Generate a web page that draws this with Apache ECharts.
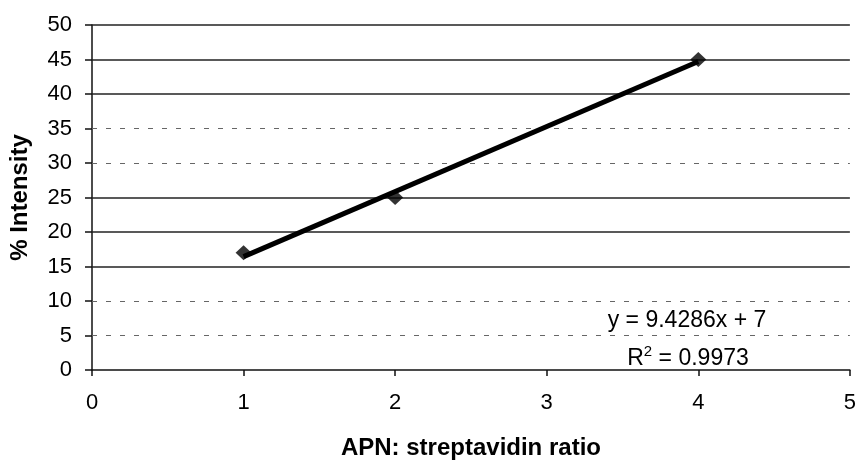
<!DOCTYPE html>
<html>
<head>
<meta charset="utf-8">
<script src="https://cdn.jsdelivr.net/npm/echarts@6/dist/echarts.min.js"></script>
<style>html,body{margin:0;padding:0;background:#fff;}#c{width:859px;height:465px;}</style>
</head>
<body>
<div id="c"></div>
<script>
const xValues = [1, 2, 4];
const yValues = [17, 25, 45];
const trendX = [1, 4];
const trendY = [16.43, 44.71];
const solidGrid = [15, 20, 25, 40, 45, 50];
const faintGrid = [5, 10, 30, 35];
const equationText = 'y = 9.4286x + 7';
const r2Base = 'R';
const r2Sup = '2';
const r2Rest = ' = 0.9973';
const xTitle = 'APN: streptavidin ratio';
const yTitle = '% Intensity';

const FONT = '"Liberation Sans", Arial, sans-serif';
const chart = echarts.init(document.getElementById('c'));

const gridLines = solidGrid.map(v => ({yAxis: v, lineStyle: {color: '#222', width: 1.5, type: 'solid'}}))
  .concat(faintGrid.map(v => ({yAxis: v, lineStyle: {color: '#666', width: 1, type: [5, 9]}})));

chart.setOption({
  animation: false,
  backgroundColor: '#fff',
  grid: {left: 92, right: 9, top: 25, bottom: 88, containLabel: false},
  xAxis: {
    type: 'value', min: 0, max: 5, interval: 1,
    name: xTitle, nameLocation: 'middle', nameGap: 66,
    nameTextStyle: {fontFamily: FONT, fontSize: 24, fontWeight: 'bold', color: '#000'},
    axisLine: {show: true, lineStyle: {color: '#111', width: 1.5}},
    axisTick: {show: true, length: 6, lineStyle: {color: '#111', width: 1.5}},
    axisLabel: {fontFamily: FONT, fontSize: 22, color: '#000', margin: 22},
    splitLine: {show: false}
  },
  yAxis: {
    type: 'value', min: 0, max: 50, interval: 5,
    name: yTitle, nameLocation: 'middle', nameGap: 60, nameRotate: 90,
    nameTextStyle: {fontFamily: FONT, fontSize: 24, fontWeight: 'bold', color: '#000'},
    axisLine: {show: true, lineStyle: {color: '#111', width: 1.5}},
    axisTick: {show: true, length: 7, lineStyle: {color: '#111', width: 1.5}},
    axisLabel: {fontFamily: FONT, fontSize: 22, color: '#000', margin: 20},
    splitLine: {show: false}
  },
  series: [
    {
      type: 'line', data: trendX.map((x, i) => [x, trendY[i]]),
      symbol: 'none', lineStyle: {color: '#000', width: 5}, z: 3,
      markLine: {silent: true, symbol: 'none', label: {show: false}, data: gridLines, z: 1}
    },
    {
      type: 'scatter', data: xValues.map((x, i) => [x, yValues[i]]),
      symbol: 'diamond', symbolSize: [16, 15], itemStyle: {color: '#000'}, z: 4
    }
  ],
  graphic: [
    {type: 'text', x: 687, y: 321, z: 10, style: {text: equationText, font: '23px ' + FONT, fill: '#000', align: 'center', verticalAlign: 'middle'}},
    {type: 'text', x: 688, y: 357, z: 10, style: {
      text: '{a|' + r2Base + '}{s|' + r2Sup + '}{a|' + r2Rest + '}',
      align: 'center', verticalAlign: 'middle', fill: '#000',
      rich: {
        a: {fontFamily: FONT, fontSize: 23, color: '#000', verticalAlign: 'bottom', lineHeight: 26},
        s: {fontFamily: FONT, fontSize: 15, color: '#000', verticalAlign: 'top', lineHeight: 26}
      }
    }}
  ]
});
</script>
</body>
</html>
